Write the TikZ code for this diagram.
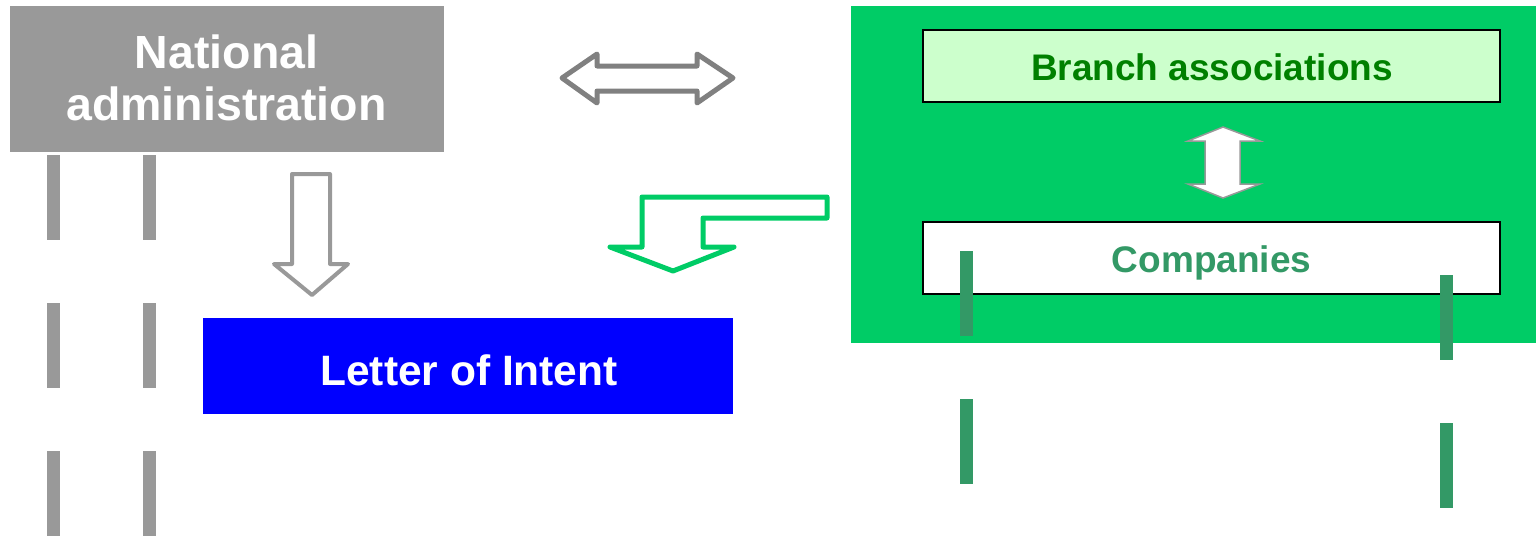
\documentclass[tikz,border=0pt]{standalone}
\usepackage{fontspec}
\setmainfont{Liberation Sans}
\definecolor{boxgray}{HTML}{999999}
\definecolor{arrgray}{HTML}{808080}
\definecolor{biggreen}{HTML}{00CC66}
\definecolor{lightgreen}{HTML}{CCFFCC}
\definecolor{branchtext}{HTML}{008000}
\definecolor{compgreen}{HTML}{339966}
\definecolor{intentblue}{HTML}{0000FF}
\begin{document}
\begin{tikzpicture}[x=1pt,y=-1pt,
  block/.style={anchor=north west,inner sep=0pt,outer sep=0pt},
  label46/.style={font=\bfseries\fontsize{46.5}{52}\selectfont,text=white,inner sep=0pt,anchor=base},
  label42/.style={font=\bfseries\fontsize{42.5}{48}\selectfont,text=white,inner sep=0pt,anchor=base},
  label37/.style={font=\bfseries\fontsize{37}{42}\selectfont,inner sep=0pt,anchor=base},
  blockarrow/.style={line join=round,line cap=round},
  graydash/.style={draw=boxgray,line width=13pt,dash pattern=on 85pt off 63pt},
  greendash/.style={draw=compgreen,line width=13pt,dash pattern=on 85pt off 63pt}]
\useasboundingbox (0,0) rectangle (1536,536);

% boxes
\node[block,fill=boxgray,minimum width=434pt,minimum height=146pt] (nat) at (10,6) {};
\node[block,fill=intentblue,minimum width=530pt,minimum height=96pt] (loi) at (203,318) {};
\node[block,fill=biggreen,minimum width=685pt,minimum height=337pt] (grp) at (851,6) {};
\node[block,fill=lightgreen,draw=black,line width=2pt,minimum width=577pt,minimum height=72pt] (branch) at (923,30) {};
\node[block,fill=white,draw=black,line width=2pt,minimum width=577pt,minimum height=72pt] (comp) at (923,222) {};

% texts
\node[label46] (natA) at (226.5,68) {National};
\node[label46] (natB) at (226.5,120) {administration};
\node[label42] (loiT) at (469,385) {Letter of Intent};
\node[label37,text=branchtext] (branchT) at (1212,80) {Branch associations};
\node[label37,text=compgreen] (compT) at (1211.5,272) {Companies};

% gray double arrow
\draw[blockarrow,draw=arrgray,line width=5pt,fill=white]
  (562,78) -- (597,54) -- (597,66) -- (697,66) -- (697,54) -- (733,78)
  -- (697,103) -- (697,91) -- (597,91) -- (597,103) -- cycle;

% gray down arrow
\draw[blockarrow,draw=boxgray,line width=4pt,fill=white]
  (292,174) -- (330,174) -- (330,264) -- (348,264) -- (312,295)
  -- (274,264) -- (292,264) -- cycle;

% green bent arrow
\draw[blockarrow,draw=biggreen,line width=5pt,fill=white]
  (827,197) -- (642,197) -- (642,247) -- (610,247) -- (673,271)
  -- (734,247) -- (703,247) -- (703,218) -- (827,218) -- cycle;

% white vertical double arrow
\draw[line join=miter,draw=boxgray,line width=1.5pt,fill=white]
  (1223,127) -- (1260,141) -- (1240,141) -- (1240,184) -- (1260,184)
  -- (1223,198) -- (1188,184) -- (1205,184) -- (1205,141) -- (1188,141) -- cycle;

% dashed lines
\coordinate (g1a) at (53.5,155);  \coordinate (g1b) at (53.5,536);
\coordinate (g2a) at (149,155);   \coordinate (g2b) at (149,536);
\coordinate (c1a) at (966,251);   \coordinate (c1b) at (966,484);
\coordinate (c2a) at (1446,275);  \coordinate (c2b) at (1446,508);
\draw[graydash] (g1a) -- (g1b);
\draw[graydash] (g2a) -- (g2b);
\draw[greendash] (c1a) -- (c1b);
\draw[greendash] (c2a) -- (c2b);
\end{tikzpicture}
\end{document}
